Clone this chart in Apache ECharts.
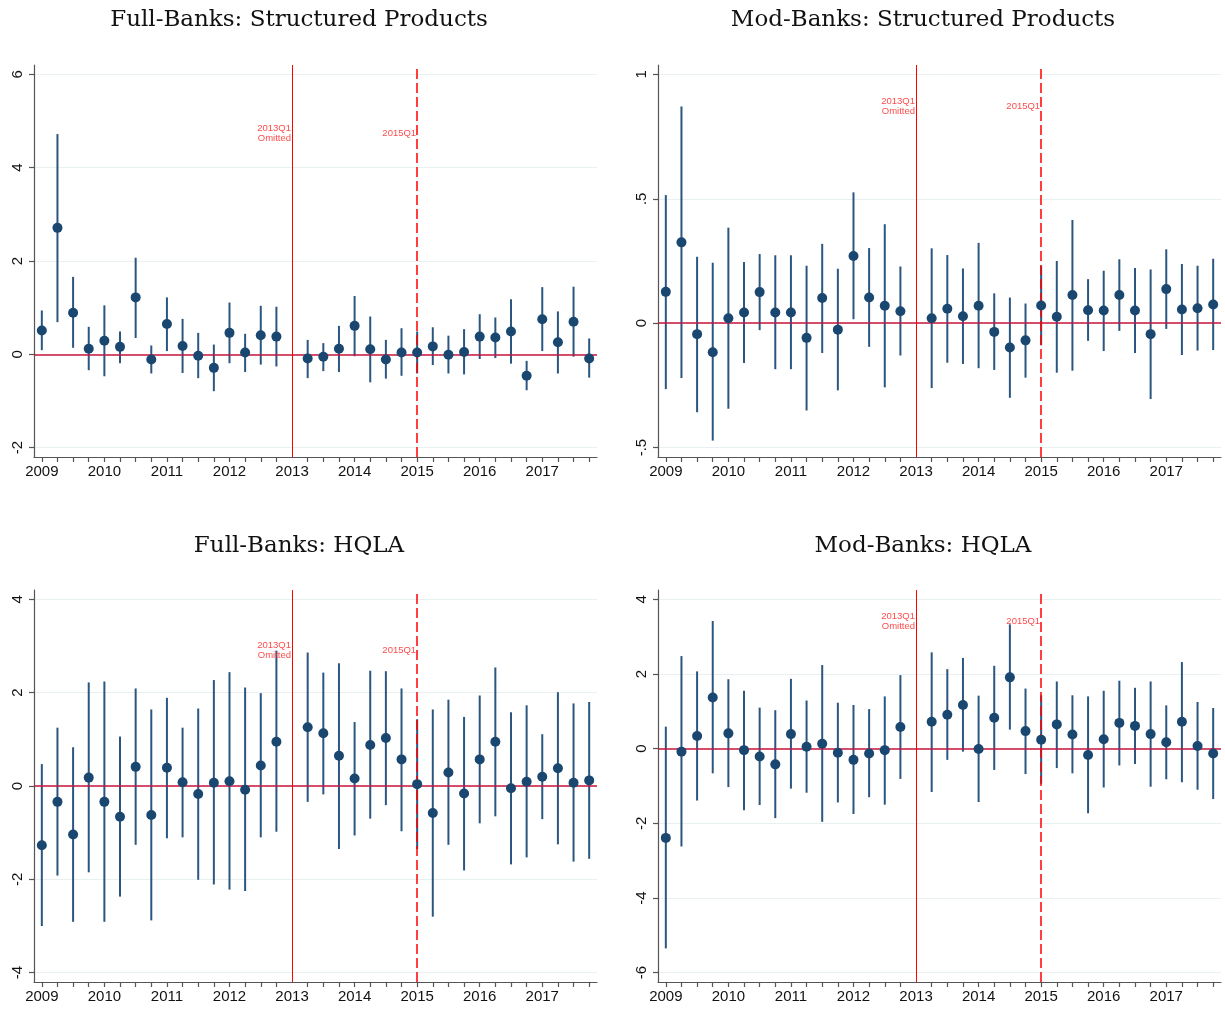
<!DOCTYPE html>
<html>
<head>
<meta charset="utf-8">
<script src="https://cdn.jsdelivr.net/npm/echarts@6/dist/echarts.min.js"></script>
<style>
html,body{margin:0;padding:0;background:#fff;}
#chart{width:1225px;height:1009px;}
</style>
</head>
<body>
<div id="chart"></div>
<script>
// Quarter index: 0 = 2009Q1 ... 35 = 2017Q4 (16 = 2013Q1 omitted)
const quarters = Array.from({length: 36}, (_, i) => i);
const yearTicks = [0, 4, 8, 12, 16, 20, 24, 28, 32];
const yearLabels = ['2009','2010','2011','2012','2013','2014','2015','2016','2017'];
const omittedQ = 16;   // 2013Q1
const policyQ = 24;    // 2015Q1

const titles = ['Full-Banks: Structured Products', 'Mod-Banks: Structured Products',
                'Full-Banks: HQLA', 'Mod-Banks: HQLA'];

// Full-Banks: Structured Products
const fullSP_est = [0.51, 2.71, 0.89, 0.12, 0.29, 0.16, 1.22, -0.11, 0.65, 0.18, -0.03, -0.29, 0.46, 0.04, 0.41, 0.38, null, -0.09, -0.05, 0.12, 0.61, 0.11, -0.11, 0.04, 0.04, 0.17, -0.01, 0.05, 0.38, 0.36, 0.49, -0.46, 0.75, 0.26, 0.70, -0.09];
const fullSP_hi  = [0.94, 4.72, 1.66, 0.59, 1.05, 0.49, 2.07, 0.19, 1.22, 0.76, 0.46, 0.21, 1.11, 0.44, 1.04, 1.02, null, 0.31, 0.24, 0.61, 1.25, 0.81, 0.31, 0.56, 0.49, 0.58, 0.40, 0.54, 0.86, 0.79, 1.18, -0.14, 1.44, 0.92, 1.45, 0.34];
const fullSP_lo  = [0.09, 0.69, 0.14, -0.34, -0.47, -0.19, 0.35, -0.41, 0.07, -0.40, -0.51, -0.79, -0.19, -0.38, -0.22, -0.26, null, -0.51, -0.36, -0.38, -0.04, -0.60, -0.52, -0.46, -0.41, -0.23, -0.41, -0.43, -0.10, -0.08, -0.20, -0.77, 0.07, -0.41, -0.05, -0.50];

// Mod-Banks: Structured Products
const modSP_est = [0.126, 0.325, -0.044, -0.117, 0.020, 0.043, 0.125, 0.043, 0.043, -0.059, 0.101, -0.026, 0.270, 0.103, 0.070, 0.048, null, 0.020, 0.058, 0.028, 0.070, -0.035, -0.098, -0.069, 0.071, 0.026, 0.113, 0.052, 0.051, 0.113, 0.051, -0.044, 0.137, 0.055, 0.060, 0.075];
const modSP_hi  = [0.515, 0.871, 0.267, 0.243, 0.384, 0.246, 0.278, 0.273, 0.273, 0.231, 0.319, 0.219, 0.526, 0.302, 0.398, 0.228, null, 0.301, 0.274, 0.220, 0.323, 0.120, 0.103, 0.079, 0.231, 0.250, 0.415, 0.177, 0.211, 0.257, 0.222, 0.216, 0.297, 0.238, 0.231, 0.259];
const modSP_lo  = [-0.265, -0.220, -0.358, -0.472, -0.344, -0.160, -0.028, -0.185, -0.185, -0.351, -0.120, -0.270, 0.016, -0.095, -0.258, -0.130, null, -0.261, -0.159, -0.164, -0.181, -0.188, -0.300, -0.219, -0.089, -0.199, -0.191, -0.071, -0.112, -0.031, -0.120, -0.305, -0.023, -0.128, -0.110, -0.108];

// Full-Banks: HQLA
const fullHQ_est = [-1.27, -0.34, -1.04, 0.18, -0.34, -0.66, 0.41, -0.62, 0.39, 0.08, -0.17, 0.07, 0.10, -0.08, 0.44, 0.95, null, 1.26, 1.13, 0.65, 0.16, 0.88, 1.03, 0.57, 0.04, -0.58, 0.29, -0.16, 0.57, 0.95, -0.05, 0.09, 0.20, 0.38, 0.07, 0.12];
const fullHQ_hi  = [0.47, 1.25, 0.83, 2.22, 2.24, 1.06, 2.09, 1.64, 1.89, 1.25, 1.66, 2.27, 2.44, 2.11, 1.99, 2.90, null, 2.86, 2.43, 2.63, 1.37, 2.47, 2.46, 2.09, 1.43, 1.64, 1.85, 1.48, 1.94, 2.54, 1.58, 1.73, 1.11, 2.01, 1.77, 1.80];
const fullHQ_lo  = [-3.00, -1.92, -2.91, -1.85, -2.91, -2.37, -1.26, -2.88, -1.12, -1.10, -2.01, -2.11, -2.22, -2.25, -1.10, -0.98, null, -0.34, -0.18, -1.35, -1.06, -0.70, -0.41, -0.97, -1.35, -2.80, -1.26, -1.81, -0.80, -0.65, -1.68, -1.53, -0.71, -1.25, -1.62, -1.56];

// Mod-Banks: HQLA
const modHQ_est = [-2.39, -0.08, 0.34, 1.37, 0.41, -0.04, -0.21, -0.42, 0.39, 0.05, 0.13, -0.11, -0.30, -0.13, -0.04, 0.58, null, 0.72, 0.91, 1.17, -0.01, 0.83, 1.91, 0.47, 0.24, 0.65, 0.38, -0.17, 0.25, 0.69, 0.61, 0.39, 0.17, 0.72, 0.07, -0.13];
const modHQ_hi  = [0.59, 2.48, 2.07, 3.42, 1.86, 1.55, 1.10, 1.03, 1.87, 1.29, 2.24, 1.23, 1.17, 1.06, 1.40, 1.97, null, 2.58, 2.13, 2.43, 1.42, 2.22, 3.33, 1.61, 1.43, 1.80, 1.43, 1.40, 1.55, 1.82, 1.63, 1.80, 1.16, 2.32, 1.25, 1.09];
const modHQ_lo  = [-5.35, -2.62, -1.39, -0.66, -1.03, -1.65, -1.51, -1.86, -1.07, -1.18, -1.96, -1.44, -1.75, -1.30, -1.50, -0.81, null, -1.16, -0.30, -0.08, -1.43, -0.57, 0.51, -0.68, -0.94, -0.52, -0.66, -1.73, -1.04, -0.45, -0.41, -1.02, -0.82, -0.90, -1.10, -1.35];

// y-axis tick values per panel
const yTicks = [[-2, 0, 2, 4, 6], [-0.5, 0, 0.5, 1], [-4, -2, 0, 2, 4], [-6, -4, -2, 0, 2, 4]];
const yRange = [[-2.2, 6.2], [-0.538, 1.038], [-4.2, 4.2], [-6.25, 4.25]];
const annotY = [4.73, 0.87, 2.9, 3.4];

const panels = [
  [fullSP_est, fullSP_lo, fullSP_hi],
  [modSP_est, modSP_lo, modSP_hi],
  [fullHQ_est, fullHQ_lo, fullHQ_hi],
  [modHQ_est, modHQ_lo, modHQ_hi]
];

const gridPos = [
  {left: 34, top: 65, width: 563, height: 392},
  {left: 658, top: 65, width: 563, height: 392},
  {left: 34, top: 590, width: 563, height: 392},
  {left: 658, top: 590, width: 563, height: 392}
];
const titlePos = [[299, 20], [923, 20], [299, 546], [923, 546]];

const NAVY = '#1a476f';
const SPIKE = '#2a5680';
const AXIS = '#555555';
const FONT = 'Liberation Sans';

const xTickVals = quarters.filter(q => q !== omittedQ);

function fmtY(v) {
  let s = String(v);
  s = s.replace(/^0\./, '.').replace(/^-0\./, '-.');
  return s;
}

const option = {
  animation: false,
  backgroundColor: '#ffffff',
  grid: gridPos.map(g => Object.assign({containLabel: false}, g)),
  xAxis: gridPos.map((g, i) => ({
    type: 'value', gridIndex: i, min: -0.5, max: 35.5,
    axisLine: {show: true, onZero: false, lineStyle: {color: AXIS, width: 1.2}},
    axisTick: {show: true, length: 5, customValues: xTickVals, lineStyle: {color: AXIS, width: 1.2}},
    axisLabel: {show: true, customValues: yearTicks, margin: 7, fontSize: 15, color: '#111', fontFamily: FONT,
      formatter: v => yearLabels[yearTicks.indexOf(Math.round(v))] || ''},
    splitLine: {show: false}
  })),
  yAxis: gridPos.map((g, i) => ({
    type: 'value', gridIndex: i, min: yRange[i][0], max: yRange[i][1],
    axisLine: {show: true, onZero: false, lineStyle: {color: AXIS, width: 1.2}},
    axisTick: {show: true, length: 5, customValues: yTicks[i], lineStyle: {color: AXIS, width: 1.2}},
    axisLabel: {show: true, customValues: yTicks[i], rotate: 90, margin: 9, fontSize: 15, color: '#111', fontFamily: FONT,
      formatter: v => fmtY(v)},
    splitLine: {show: true, lineStyle: {color: '#e9f0f2', width: 1}}
  })),
  graphic: titles.map((t, i) => ({
    type: 'text', x: titlePos[i][0], y: titlePos[i][1],
    style: {text: t, fill: '#111', font: '23px "DejaVu Serif", serif', textAlign: 'center', textVerticalAlign: 'middle'}
  })),
  series: []
};

panels.forEach((p, i) => {
  const [est, lo, hi] = p;
  const spikeData = [], ptData = [];
  quarters.forEach(q => {
    if (est[q] === null) return;
    spikeData.push([q, lo[q], hi[q]]);
    ptData.push([q, est[q]]);
  });
  option.series.push({
    type: 'custom', xAxisIndex: i, yAxisIndex: i, z: 2, silent: true,
    encode: {x: 0, y: [1, 2]},
    data: spikeData,
    renderItem: (params, api) => {
      const a = api.coord([api.value(0), api.value(1)]);
      const b = api.coord([api.value(0), api.value(2)]);
      return {type: 'line', shape: {x1: a[0], y1: a[1], x2: b[0], y2: b[1]},
              style: {stroke: SPIKE, lineWidth: 2}};
    },
    markLine: {
      silent: true, symbol: ['none', 'none'], animation: false,
      label: {show: false},
      data: [
        {yAxis: 0, lineStyle: {color: '#c8143c', width: 1.5, type: 'solid', opacity: 1}},
        {xAxis: omittedQ, lineStyle: {color: '#ff0000', width: 1, type: 'solid', opacity: 1}},
        {xAxis: policyQ, lineStyle: {color: '#ff0000', width: 1.5, type: [10, 4], opacity: 1}}
      ]
    }
  });
  option.series.push({
    type: 'scatter', xAxisIndex: i, yAxisIndex: i, z: 5, silent: true,
    symbol: 'circle', symbolSize: 10,
    itemStyle: {color: NAVY, opacity: 1},
    data: ptData
  });
  option.series.push({
    type: 'scatter', xAxisIndex: i, yAxisIndex: i, z: 4, silent: true,
    symbolSize: 0,
    data: [
      {value: [omittedQ, annotY[i]], label: {formatter: '2013Q1\nOmitted'}},
      {value: [policyQ, annotY[i]], label: {formatter: '2015Q1'}}
    ],
    label: {show: true, position: 'left', distance: 1, color: '#ff1a1a', fontSize: 9.5, lineHeight: 10,
            fontFamily: FONT, align: 'right'}
  });
});

const chart = echarts.init(document.getElementById('chart'), null, {renderer: 'canvas'});
chart.setOption(option);
</script>
</body>
</html>
